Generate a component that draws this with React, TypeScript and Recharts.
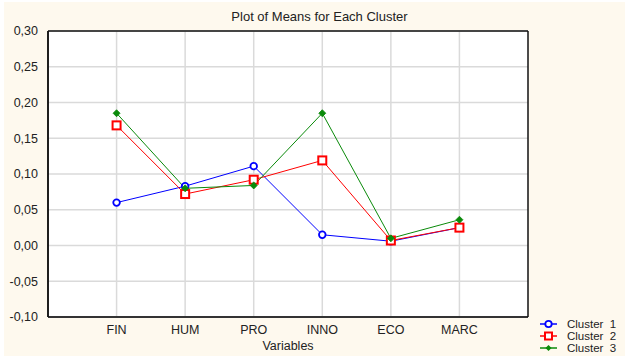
import React from 'react';
import { LineChart, Line, XAxis, YAxis, CartesianGrid } from 'recharts';

const categories = ['FIN', 'HUM', 'PRO', 'INNO', 'ECO', 'MARC'];
const cluster1 = [0.060, 0.083, 0.111, 0.015, 0.006, 0.025];
const cluster2 = [0.168, 0.072, 0.092, 0.119, 0.007, 0.025];
const cluster3 = [0.185, 0.080, 0.084, 0.185, 0.010, 0.036];
const seriesNames = ['Cluster  1', 'Cluster  2', 'Cluster  3'];
const yTicks = [-0.1, -0.05, 0, 0.05, 0.1, 0.15, 0.2, 0.25, 0.3];
const xTicks = [1, 2, 3, 4, 5, 6];

const data = categories.map((c, i) => ({ x: i + 1, name: c, c1: cluster1[i], c2: cluster2[i], c3: cluster3[i] }));

const xMinor: number[] = [];
for (let i = 0; i <= 28; i++) xMinor.push(i * 0.25);
const yMinor: number[] = [];
for (let i = -10; i <= 30; i++) yMinor.push(Math.round(i) / 100);

const FONT = '"Liberation Sans", Arial, sans-serif';
const BLUE = '#0000ff';
const RED = '#ff0000';
const GREEN = '#0a8a0a';
const BG = '#fef9ee';

const fmt = (v: number) => (v < 0 ? '-' : '') + Math.abs(v).toFixed(2).replace('.', ',');

const CircleDot = (p: any) => <circle key={p.key} cx={p.cx} cy={p.cy} r={3.3} fill="#fff" stroke={BLUE} strokeWidth={1.8} />;
const SquareDot = (p: any) => <rect key={p.key} x={p.cx - 4} y={p.cy - 4} width={8} height={8} fill="#fff" stroke={RED} strokeWidth={2} />;
const DiamondDot = (p: any) => (
  <polygon key={p.key} points={`${p.cx},${p.cy - 3.5} ${p.cx + 3.5},${p.cy} ${p.cx},${p.cy + 3.5} ${p.cx - 3.5},${p.cy}`} fill={GREEN} stroke={GREEN} strokeWidth={0.8} />
);

const legendItems = [
  { name: seriesNames[0], color: BLUE, kind: 'circle' },
  { name: seriesNames[1], color: RED, kind: 'square' },
  { name: seriesNames[2], color: GREEN, kind: 'diamond' },
];

export default function App() {
  return (
    <div style={{ position: 'absolute', left: 0, top: 0, width: 625, height: 356, background: '#fff', fontFamily: FONT }}>
      <div style={{ position: 'absolute', left: 4, top: 2, width: 621, height: 354, background: BG }} />
      <div style={{ position: 'absolute', left: 48, top: 31, width: 480, height: 286, background: '#fff' }} />
      <div style={{ position: 'absolute', left: 0, top: 0 }}>
        <LineChart width={625} height={356} data={data} margin={{ top: 31, right: 97, bottom: 0, left: 0 }}>
          <CartesianGrid stroke="#dadada" strokeWidth={1.5} horizontalValues={yTicks} verticalValues={xTicks} />
          <XAxis dataKey="x" type="number" domain={[0, 7]} ticks={xTicks} interval={0} height={39}
            tickFormatter={(v: number) => categories[v - 1] ?? ''} tickLine={false}
            axisLine={{ stroke: '#333', strokeWidth: 2 }} stroke="#333" tick={{ fill: '#222', fontSize: 12.5, fontFamily: FONT }} tickMargin={2} />
          <XAxis xAxisId="bm" dataKey="x" type="number" domain={[0, 7]} ticks={xMinor} interval={0} orientation="bottom" mirror tick={false}
            tickSize={4} stroke="#333" axisLine={{ stroke: '#333', strokeWidth: 2 }} height={20} />
          <XAxis xAxisId="top" dataKey="x" type="number" domain={[0, 7]} ticks={xMinor} interval={0} orientation="top" mirror tick={false}
            tickSize={4} stroke="#222" axisLine={{ stroke: '#111', strokeWidth: 1.5 }} height={20} />
          <YAxis type="number" domain={[-0.1, 0.3]} ticks={yTicks} interval={0} width={48} tickFormatter={fmt} tickLine={false}
            axisLine={{ stroke: '#111', strokeWidth: 1.5 }} stroke="#111" tick={{ fill: '#222', fontSize: 12.5, fontFamily: FONT }} tickMargin={4} allowDataOverflow />
          <YAxis yAxisId="lm" type="number" domain={[-0.1, 0.3]} ticks={yMinor} interval={0} orientation="left" mirror tick={false}
            tickSize={4} stroke="#222" axisLine={{ stroke: '#111', strokeWidth: 1.5 }} width={20} />
          <YAxis yAxisId="right" type="number" domain={[-0.1, 0.3]} ticks={yMinor} interval={0} orientation="right" mirror tick={false}
            tickSize={4} stroke="#222" axisLine={{ stroke: '#111', strokeWidth: 1.5 }} width={20} />
          <Line dataKey="c1" stroke={BLUE} strokeWidth={1} dot={CircleDot} isAnimationActive={false} />
          <Line dataKey="c2" stroke={RED} strokeWidth={1} dot={SquareDot} isAnimationActive={false} />
          <Line dataKey="c3" stroke={GREEN} strokeWidth={1} dot={DiamondDot} isAnimationActive={false} />
        </LineChart>
      </div>
      <div style={{ position: 'absolute', left: 0, width: 625, top: 9, textAlign: 'center', paddingLeft: 14, boxSizing: 'border-box', fontSize: 13, color: '#222', whiteSpace: 'pre' }}>
        Plot of Means for Each Cluster
      </div>
      <div style={{ position: 'absolute', left: 48, width: 480, top: 339, textAlign: 'center', fontSize: 12.5, color: '#222' }}>
        Variables
      </div>
      {legendItems.map((it, i) => (
        <div key={it.name} style={{ position: 'absolute', left: 539, top: 318 + i * 12, height: 12, lineHeight: '12px', display: 'flex', alignItems: 'center', fontSize: 11.5, color: '#222', whiteSpace: 'pre' }}>
          <svg width={20} height={12} style={{ display: 'block' }}>
            <line x1={1} y1={6} x2={18} y2={6} stroke={it.color} strokeWidth={1.5} />
            {it.kind === 'circle' && <circle cx={9.5} cy={6} r={3.2} fill="#fff" stroke={it.color} strokeWidth={1.8} />}
            {it.kind === 'square' && <rect x={6} y={2.5} width={7} height={7} fill="#fff" stroke={it.color} strokeWidth={2} />}
            {it.kind === 'diamond' && <polygon points="9.5,3 12.5,6 9.5,9 6.5,6" fill={it.color} />}
          </svg>
          <span style={{ marginLeft: 8, lineHeight: '12px', display: 'block', height: 12 }}>{it.name}</span>
        </div>
      ))}
    </div>
  );
}
